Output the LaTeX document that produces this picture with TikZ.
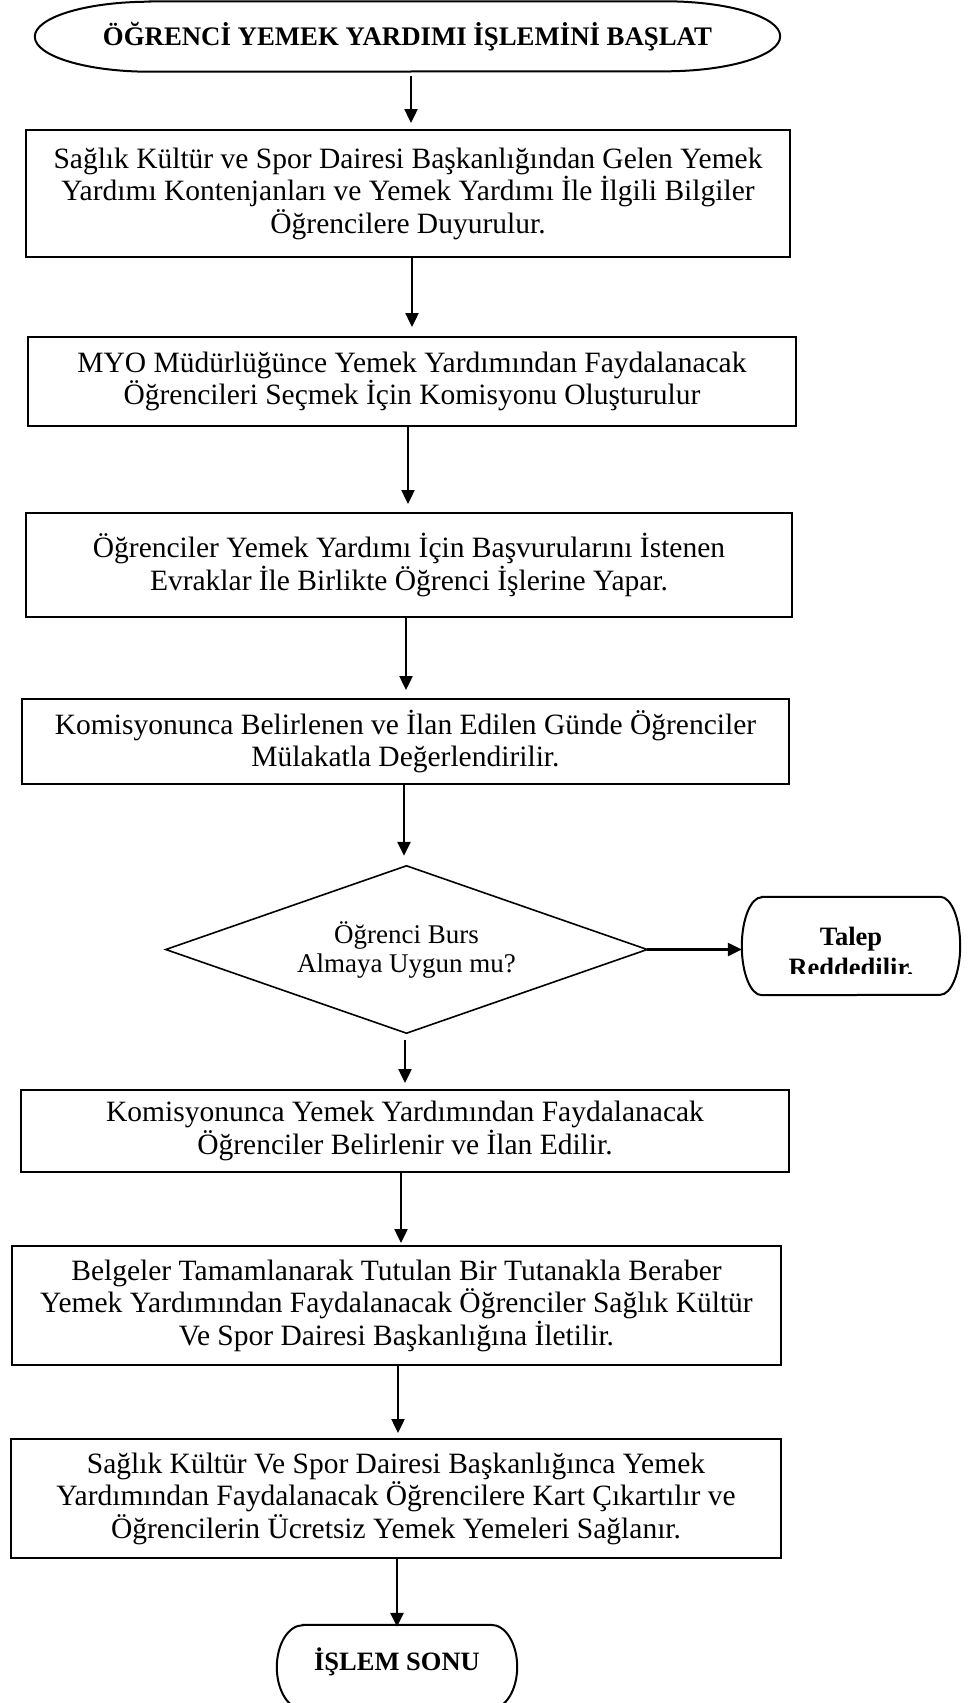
\documentclass[tikz,border=0pt]{standalone}
\usepackage{fontspec}
\setmainfont{Liberation Serif}
\usetikzlibrary{arrows.meta,calc}
\newcommand\bodyfs{\fontsize{29.5}{32.5}\selectfont}
\newcommand\decfs{\fontsize{27}{29}\selectfont}
\newcommand\boldfs{\fontsize{26.5}{31}\selectfont\bfseries}
\newcommand\titlefs{\fontsize{26.8}{31}\selectfont\bfseries}
\begin{document}
\begin{tikzpicture}[x=1pt,y=-1pt,
  box/.style={draw, line width=2pt, align=center, inner sep=0pt, font=\bodyfs},
  arr/.style={line width=2.4pt, -{Triangle[length=14pt,width=13pt]}},
  outline/.style={line width=2pt},
  term/.style={align=center, inner sep=0pt, font=\boldfs}]
\useasboundingbox (0,0) rectangle (971,1703);

% start terminator
\node[term, font=\titlefs, minimum width=745, minimum height=70] (start) at (407.5,36.5) {ÖĞRENCİ YEMEK YARDIMI İŞLEMİNİ BAŞLAT};
\draw[outline] ([xshift=115pt]start.north west) -- ([xshift=-115pt]start.north east)
  arc[start angle=90, end angle=-90, x radius=115pt, y radius=35pt]
  -- ([xshift=115pt]start.south west)
  arc[start angle=270, end angle=90, x radius=115pt, y radius=35pt] -- cycle;

% process boxes
\node[box, minimum width=764, minimum height=127] (b1) at (408,193.5)
  {Sağlık Kültür ve Spor Dairesi Başkanlığından Gelen Yemek\\Yardımı Kontenjanları ve Yemek Yardımı İle İlgili Bilgiler\\Öğrencilere Duyurulur.};
\node[box, minimum width=768, minimum height=89] (b2) at (412,381.5)
  {MYO Müdürlüğünce Yemek Yardımından Faydalanacak\\Öğrencileri Seçmek İçin Komisyonu Oluşturulur};
\node[box, minimum width=766, minimum height=104] (b3) at (409,565)
  {Öğrenciler Yemek Yardımı İçin Başvurularını İstenen\\Evraklar İle Birlikte Öğrenci İşlerine Yapar.};
\node[box, minimum width=767, minimum height=85] (b4) at (405.5,741.5)
  {Komisyonunca Belirlenen ve İlan Edilen Günde Öğrenciler\\Mülakatla Değerlendirilir.};

% decision
\node[align=center, inner sep=0pt, font=\decfs, minimum width=481, minimum height=167] (dec) at (406.5,949.5)
  {Öğrenci Burs\\Almaya Uygun mu?};
\draw[line width=1.6pt] (dec.north) -- (dec.east) -- (dec.south) -- (dec.west) -- cycle;

% rejected terminator (text clipped as in the original)
\begin{scope}
  \clip (730,880) rectangle (965,973);
  \node[term, minimum width=218, minimum height=98] (talep) at (851,951.5) {Talep\\Reddedilir.};
\end{scope}
\draw[outline] ([xshift=20pt,yshift=5.5pt]talep.north west) -- ([xshift=-20pt,yshift=5.5pt]talep.north east)
  arc[start angle=90, end angle=-90, x radius=20pt, y radius=49pt]
  -- ([xshift=20pt,yshift=5.5pt]talep.south west)
  arc[start angle=270, end angle=90, x radius=20pt, y radius=49pt] -- cycle;

\node[box, minimum width=768, minimum height=82] (b5) at (405,1131)
  {Komisyonunca Yemek Yardımından Faydalanacak\\Öğrenciler Belirlenir ve İlan Edilir.};
\node[box, minimum width=769, minimum height=119] (b6) at (396.5,1305.5)
  {Belgeler Tamamlanarak Tutulan Bir Tutanakla Beraber\\Yemek Yardımından Faydalanacak Öğrenciler Sağlık Kültür\\Ve Spor Dairesi Başkanlığına İletilir.};
\node[box, minimum width=770, minimum height=119] (b7) at (396,1498.5)
  {Sağlık Kültür Ve Spor Dairesi Başkanlığınca Yemek\\Yardımından Faydalanacak Öğrencilere Kart Çıkartılır ve\\Öğrencilerin Ücretsiz Yemek Yemeleri Sağlanır.};

% end terminator
\node[term, minimum width=240, minimum height=84, text height=20pt, text depth=14pt] (end) at (397,1667) {İŞLEM SONU};
\draw[outline] ([xshift=26pt]end.north west) -- ([xshift=-26pt]end.north east)
  arc[start angle=90, end angle=-90, x radius=26pt, y radius=42pt]
  -- ([xshift=26pt]end.south west)
  arc[start angle=270, end angle=90, x radius=26pt, y radius=42pt] -- cycle;

% connector x positions
\coordinate (x1) at (411,0);
\coordinate (x2) at (412,0);
\coordinate (x3) at (408,0);
\coordinate (x4) at (406,0);
\coordinate (x5) at (404,0);
\coordinate (x6) at (405,0);
\coordinate (x7) at (401,0);
\coordinate (x8) at (398,0);
\coordinate (x9) at (397,0);

\draw[arr, shorten <=4.5pt, shorten >=6pt] (start.south -| x1) -- (b1.north -| x1);
\draw[arr, shorten >=9pt] (b1.south -| x2) -- (b2.north -| x2);
\draw[arr, shorten >=8pt] (b2.south -| x3) -- (b3.north -| x3);
\draw[arr, shorten >=8pt] (b3.south -| x4) -- (b4.north -| x4);
\draw[arr, shorten >=10pt] (b4.south -| x5) -- (dec.north -| x5);
\draw[arr] (dec.east) -- (dec.east -| talep.west);
\draw[arr, shorten <=7pt, shorten >=6pt] (dec.south -| x6) -- (b5.north -| x6);
\draw[arr, shorten >=2pt] (b5.south -| x7) -- (b6.north -| x7);
\draw[arr, shorten >=5pt] (b6.south -| x8) -- (b7.north -| x8);
\draw[arr, shorten >=-2pt] (b7.south -| x9) -- (end.north -| x9);
\end{tikzpicture}
\end{document}
